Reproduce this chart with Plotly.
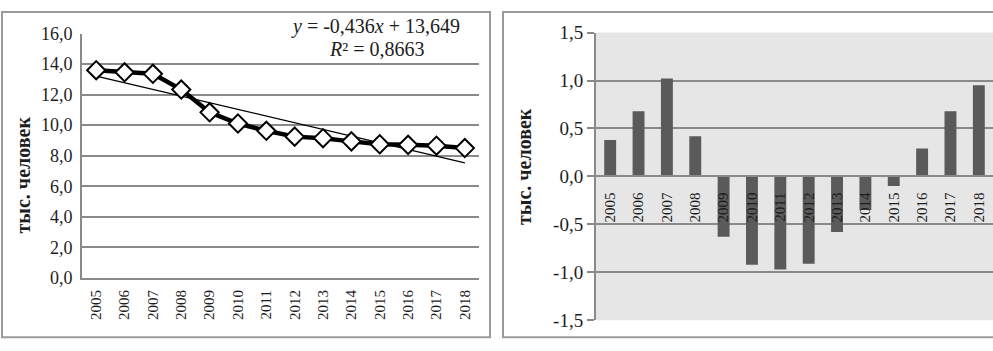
import numpy as np
import plotly.graph_objects as go

years = ["2005", "2006", "2007", "2008", "2009", "2010", "2011",
         "2012", "2013", "2014", "2015", "2016", "2017", "2018"]
population = [13.60, 13.46, 13.36, 12.33, 10.84, 10.11, 9.63,
              9.25, 9.15, 8.94, 8.75, 8.71, 8.66, 8.50]
deviation = [0.38, 0.68, 1.02, 0.42, -0.63, -0.92, -0.97,
             -0.91, -0.58, -0.35, -0.10, 0.29, 0.68, 0.95]
left_ticks = [0, 2, 4, 6, 8, 10, 12, 14, 16]
right_ticks = [-1.5, -1.0, -0.5, 0.0, 0.5, 1.0, 1.5]
right_ticktext = ["-1,5", "-1,0", "-0,5", "0,0", "0,5", "1,0", "1,5"]
ytitle = "тыс. человек"
eq_text = "<i>y</i> = -0,436<i>x</i> + 13,649"
r2_text = "<i>R</i>² = 0,8663"

t = np.arange(1, len(years) + 1)
k, b = np.polyfit(t, population, 1)
trend = k * t + b

W, H = 993, 351
def px(x): return x / W
def py(y): return 1 - y / H

FONT = "Liberation Serif"
GRID = "#8a8a8a"
TXT = "#1e1e1e"

fig = go.Figure()
fig.add_trace(go.Scatter(x=years, y=trend, mode="lines",
                         line=dict(color="black", width=1.3),
                         xaxis="x", yaxis="y", showlegend=False))
fig.add_trace(go.Scatter(x=years, y=population, mode="lines+markers",
                         line=dict(color="black", width=4.5),
                         marker=dict(symbol="diamond", size=14, color="white",
                                     line=dict(color="black", width=2)),
                         xaxis="x", yaxis="y", showlegend=False))
fig.add_trace(go.Bar(x=years, y=deviation, marker=dict(color="#5a5a5a", line=dict(width=0)),
                     width=0.42, xaxis="x2", yaxis="y2", showlegend=False))

ydom1 = [py(285), py(25)]
ydom2 = [py(330), py(24)]

fig.update_layout(
    width=W, height=H,
    margin=dict(l=0, r=0, t=0, b=0),
    paper_bgcolor="white", plot_bgcolor="white",
    separators=", ",
    font=dict(family=FONT, color=TXT),
    xaxis=dict(domain=[px(82), px(479)], anchor="y", type="category",
               range=[-0.5, 13.5], showgrid=False, showline=True,
               linecolor=GRID, linewidth=2, tickangle=-90,
               tickfont=dict(size=15, family=FONT), ticks="outside",
               ticklen=4, tickcolor="rgba(0,0,0,0)"),
    yaxis=dict(domain=ydom1, anchor="x", range=[0, 16], tickvals=left_ticks,
               tickformat=".1f", showgrid=True, gridcolor=GRID, gridwidth=2,
               showline=True, linecolor=GRID, linewidth=2, zeroline=False,
               tickfont=dict(size=18, family=FONT), ticks="outside",
               ticklen=4, tickcolor="rgba(0,0,0,0)"),
    xaxis2=dict(domain=[px(596), 1.0], anchor="free",
                position=(ydom2[0] + ydom2[1]) / 2, type="category",
                range=[-0.5, 13.5], showgrid=False, showline=True,
                linecolor=GRID, linewidth=2, tickangle=-90,
                tickfont=dict(size=15, family=FONT), ticks="outside",
                ticklen=9, tickcolor="rgba(0,0,0,0)"),
    yaxis2=dict(domain=ydom2, anchor="x2", range=[-1.5, 1.5],
                tickvals=right_ticks, ticktext=right_ticktext,
                showgrid=True, gridcolor=GRID, gridwidth=2, zeroline=False,
                showline=True, linecolor=GRID, linewidth=2,
                tickfont=dict(size=19, family=FONT), ticks="outside",
                ticklen=7, tickcolor=GRID, tickwidth=2),
)

fig.add_shape(type="rect", xref="x2 domain", yref="y2 domain", x0=0, x1=1, y0=0, y1=1,
              fillcolor="#e6e6e6", line=dict(width=0), layer="below")
fig.add_shape(type="rect", xref="paper", yref="paper", x0=px(2), x1=px(490),
              y0=py(348), y1=py(2), line=dict(color="#9a9a9a", width=2), layer="below")
fig.add_shape(type="rect", xref="paper", yref="paper", x0=px(503), x1=px(1000),
              y0=py(348), y1=py(2), line=dict(color="#9a9a9a", width=2), layer="below")

fig.add_annotation(text=eq_text, xref="paper", yref="paper", x=px(375), y=py(18),
                   xanchor="center", yanchor="middle",
                   showarrow=False, font=dict(size=20, family=FONT, color=TXT))
fig.add_annotation(text=r2_text, xref="paper", yref="paper", x=px(377), y=py(42),
                   xanchor="center", yanchor="middle",
                   showarrow=False, font=dict(size=20, family=FONT, color=TXT))
fig.add_annotation(text="<b>" + ytitle + "</b>", xref="paper", yref="paper",
                   x=px(23), y=py(176), textangle=-90, showarrow=False,
                   xanchor="center", yanchor="middle",
                   font=dict(size=20, family=FONT, color=TXT))
fig.add_annotation(text="<b>" + ytitle + "</b>", xref="paper", yref="paper",
                   x=px(524), y=py(167), textangle=-90, showarrow=False,
                   xanchor="center", yanchor="middle",
                   font=dict(size=20, family=FONT, color=TXT))

fig.write_html("out.html", config={"displayModeBar": False},
               post_script="document.body.style.margin='0';document.body.style.overflow='hidden';")
